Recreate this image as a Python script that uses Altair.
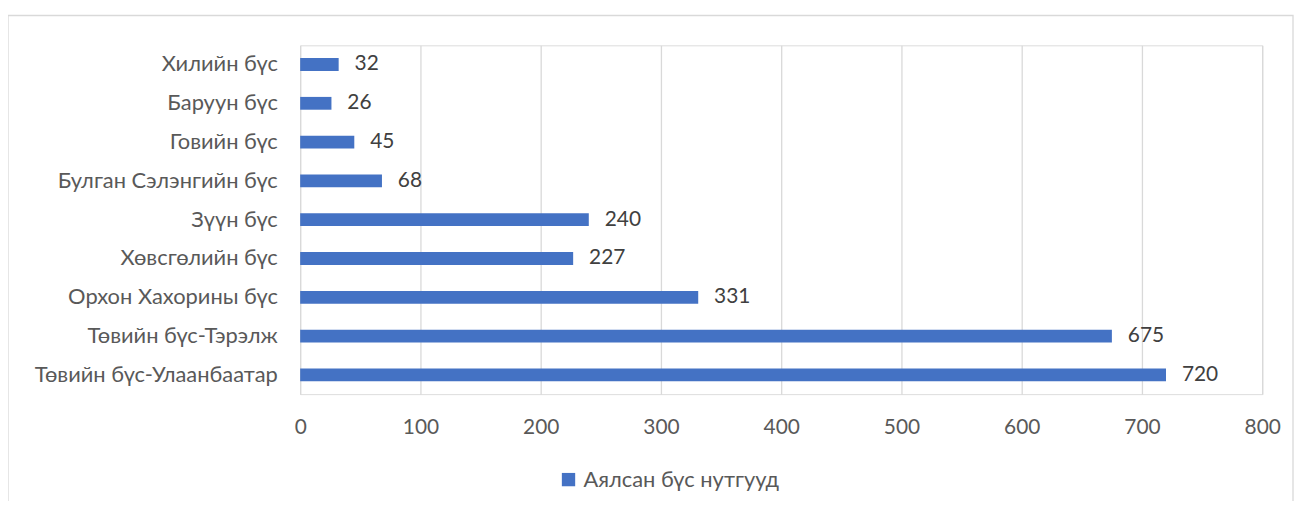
import altair as alt
import pandas as pd

categories = [
    "Хилийн бүс",
    "Баруун бүс",
    "Говийн бүс",
    "Булган Сэлэнгийн бүс",
    "Зүүн бүс",
    "Хөвсгөлийн бүс",
    "Орхон Хахорины бүс",
    "Төвийн бүс-Тэрэлж",
    "Төвийн бүс-Улаанбаатар",
]
values = [32, 26, 45, 68, 240, 227, 331, 675, 720]
series_name = "Аялсан бүс нутгууд"
x_ticks = [0, 100, 200, 300, 400, 500, 600, 700, 800]

df = pd.DataFrame({"cat": categories, "val": values, "series": [series_name] * len(values)})

FONT = "Lato"
FS = 21
FSC = 22
W, H = 968, 351
PL, PT = 294, 36
TOTW, TOTH = 1294, 493

y_enc = alt.Y(
    "cat:N",
    sort=categories,
    title=None,
    scale=alt.Scale(paddingInner=0.67, paddingOuter=0.33),
    axis=alt.Axis(
        domain=False, ticks=False, grid=False, labelFont=FONT, labelFontSize=FSC,
        labelColor="#595959", labelPadding=23, labelLimit=0,
    ),
)
x_enc = alt.X(
    "val:Q",
    title=None,
    scale=alt.Scale(domain=[0, 800], nice=False),
    axis=alt.Axis(
        values=x_ticks, domain=False, ticks=False, grid=True, gridColor="#d9d9d9",
        gridWidth=1.3, labelFont=FONT, labelFontSize=FS, labelColor="#595959",
        labelPadding=23, labelFlush=False,
    ),
)

base = alt.Chart(df)

bars = base.mark_bar(color="#4472C4").encode(
    x=x_enc,
    y=y_enc,
    color=alt.Color(
        "series:N",
        scale=alt.Scale(range=["#4472C4"]),
        legend=alt.Legend(
            title=None, orient="none", legendX=259, legendY=426, symbolType="square",
            symbolSize=180, symbolStrokeWidth=0, labelFont=FONT, labelFontSize=FSC,
            labelColor="#595959", labelOffset=4, labelLimit=0,
        ),
    ),
)

labels = base.mark_text(align="left", baseline="middle", dx=16, font=FONT, fontSize=FS, color="#404040").encode(
    x=alt.X("val:Q"),
    y=alt.Y("cat:N", sort=categories),
    text="val:Q",
)

border = alt.Chart(pd.DataFrame({"k": [0]})).mark_rect(
    fill=None, stroke="#d9d9d9", strokeWidth=1.3, clip=False
).encode(
    x=alt.value(8 - 8 - PL), x2=alt.value(1301 - 8 - PL), y=alt.value(14 - 8 - PT), y2=alt.value(480)
)

chart = (
    alt.layer(border, bars, labels)
    .properties(
        width=W, height=H,
        autosize=alt.AutoSizeParams(type="none"),
        padding={"left": PL, "top": PT, "right": TOTW - PL - W, "bottom": TOTH - PT - H},
    )
    .configure_view(stroke=None)
    .configure(background="white")
)

chart.save("out.html", embed_options={"renderer": "svg", "actions": False})
